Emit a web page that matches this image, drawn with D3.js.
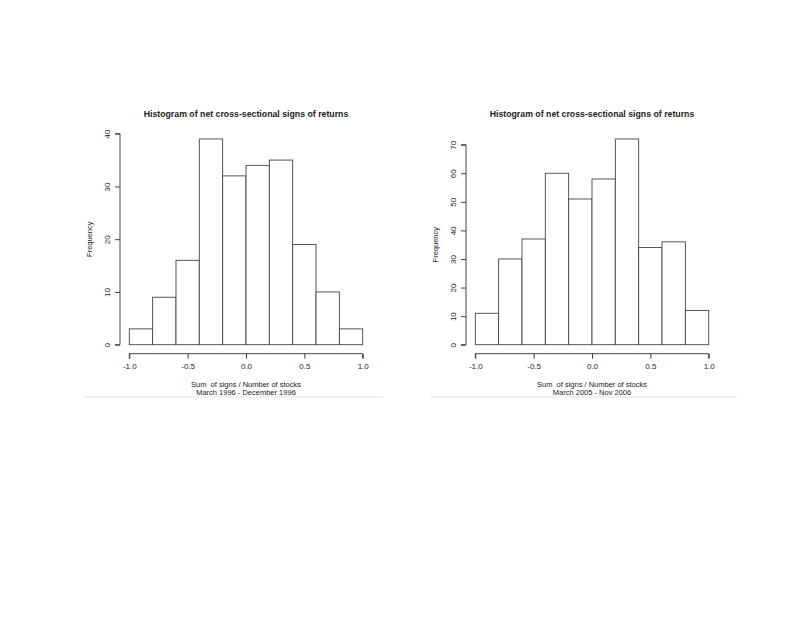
<!DOCTYPE html>
<html>
<head>
<meta charset="utf-8">
<script src="https://cdn.jsdelivr.net/npm/d3@7"></script>
<style>
  body { margin: 0; background: #fff; }
  svg text { font-family: "Liberation Sans", Arial, sans-serif; fill: #222; white-space: pre; }
</style>
</head>
<body>
<div id="chart"></div>
<script>
// bin edges and counts
const binEdges = [-1.0, -0.8, -0.6, -0.4, -0.2, 0.0, 0.2, 0.4, 0.6, 0.8, 1.0];
const counts1996 = [3, 9, 16, 39, 32, 34, 35, 19, 10, 3];
const counts2005 = [11, 30, 37, 60, 51, 58, 72, 34, 36, 12];
const xTicks = [-1.0, -0.5, 0.0, 0.5, 1.0];
const yTicks1996 = [0, 10, 20, 30, 40];
const yTicks2005 = [0, 10, 20, 30, 40, 50, 60, 70];
const titleText = "Histogram of net cross-sectional signs of returns";
const xLabel = "Sum  of signs / Number of stocks";
const subLabels = ["March 1996 - December 1996", "March 2005 - Nov 2006"];

const svg = d3.select("#chart").append("svg")
  .attr("width", 806)
  .attr("height", 623);

const fmt = d => d3.format(".1f")(d).replace("\u2212", "-");

const drawHist = (opts) => {
  const { counts, yTicks, yMax, x0, x1, yAxisX, yTop, sub, lineX0, lineX1 } = opts;
  const g = svg.append("g");
  const yBottom = 344.7;

  const x = d3.scaleLinear().domain([-1, 1]).range([x0, x1]);
  const y = d3.scaleLinear().domain([0, yMax]).range([yBottom, yTop]);

  const bins = counts.map((c, i) => ({ lo: binEdges[i], hi: binEdges[i + 1], n: c }));

  g.selectAll("rect.bar")
    .data(bins)
    .enter().append("rect")
    .attr("class", "bar")
    .attr("x", d => x(d.lo))
    .attr("y", d => y(d.n))
    .attr("width", d => x(d.hi) - x(d.lo))
    .attr("height", d => y(0) - y(d.n))
    .attr("fill", "#fff")
    .attr("stroke", "#444")
    .attr("stroke-width", 0.9);

  // x axis, R style: detached below the plot
  const xAxis = g.append("g")
    .attr("transform", `translate(0, 353.7)`)
    .call(d3.axisBottom(x).tickValues(xTicks).tickFormat(fmt).tickSize(5).tickPadding(5));
  xAxis.select(".domain").attr("stroke", "#444").attr("d", `M${x0},5V0H${x1}V5`);
  xAxis.selectAll(".tick line").attr("stroke", "#444");
  xAxis.selectAll("text").style("font-size", "8px").attr("fill", "#222");

  const yAxis = g.append("g")
    .attr("transform", `translate(${yAxisX}, 0)`)
    .call(d3.axisLeft(y).tickValues(yTicks).tickSize(5).tickPadding(3));
  yAxis.select(".domain").attr("stroke", "#444").attr("d", `M-5,${y(yTicks[0])}H0V${y(yTicks[yTicks.length - 1])}H-5`);
  yAxis.selectAll(".tick line").attr("stroke", "#444");
  yAxis.selectAll("text")
    .style("font-size", "8px")
    .attr("fill", "#222")
    .attr("text-anchor", "middle")
    .attr("x", null)
    .attr("dy", null)
    .attr("transform", "translate(-10,0) rotate(-90)");

  const cx = (x0 + x1) / 2;
  g.append("text")
    .attr("x", cx)
    .attr("y", 117)
    .attr("text-anchor", "middle")
    .style("font-size", "8.75px")
    .style("font-weight", "bold")
    .text(titleText);

  g.append("text")
    .attr("transform", `translate(${yAxisX - 28}, ${(yBottom + yTop) / 2}) rotate(-90)`)
    .attr("text-anchor", "middle")
    .style("font-size", "7.5px")
    .text("Frequency");

  g.append("text")
    .attr("x", cx)
    .attr("y", 386.5)
    .attr("text-anchor", "middle")
    .style("font-size", "7.5px")
    .text(xLabel);

  g.append("text")
    .attr("x", cx)
    .attr("y", 394.5)
    .attr("text-anchor", "middle")
    .style("font-size", "7.5px")
    .text(sub);

  g.append("line")
    .attr("x1", lineX0).attr("x2", lineX1)
    .attr("y1", 397).attr("y2", 397)
    .attr("stroke", "#e2e2e2")
    .attr("stroke-width", 1);
};

drawHist({
  counts: counts1996, yTicks: yTicks1996, yMax: 40,
  x0: 129.3, x1: 362.7, yAxisX: 120, yTop: 133.7,
  sub: subLabels[0], lineX0: 84, lineX1: 383
});

drawHist({
  counts: counts2005, yTicks: yTicks2005, yMax: 70,
  x0: 475.3, x1: 708.7, yAxisX: 466, yTop: 144.7,
  sub: subLabels[1], lineX0: 430, lineX1: 737
});
</script>
</body>
</html>
